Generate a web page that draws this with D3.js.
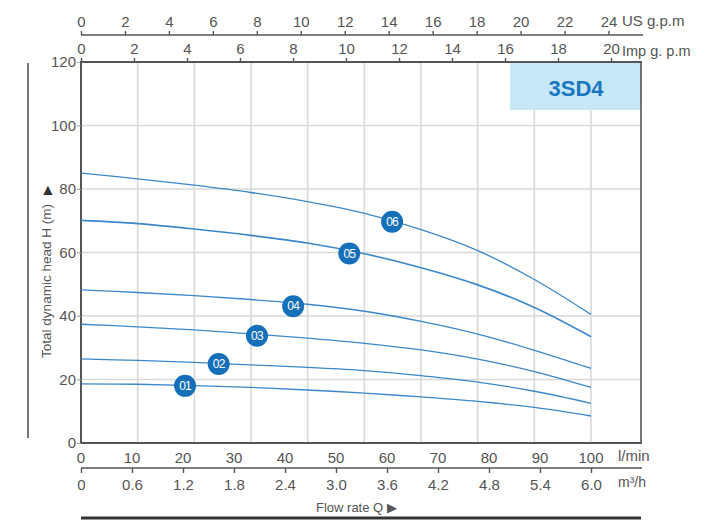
<!DOCTYPE html>
<html>
<head>
<meta charset="utf-8">
<script src="https://cdn.jsdelivr.net/npm/d3@7"></script>
<style>
  html, body { margin: 0; padding: 0; background: #fff; }
  svg { display: block; font-family: "Liberation Sans", Arial, sans-serif; }
</style>
</head>
<body>
<svg id="chart" width="720" height="520"></svg>
<script>
// ---- data ----
const flowLmin = [0, 11.1, 22.2, 33.3, 44.4, 55.6, 66.7, 77.8, 88.9, 100];
const head01 = [18.6, 18.5, 18.1, 17.5, 16.7, 15.7, 14.5, 13.1, 11.2, 8.5];
const head02 = [26.5, 26.0, 25.4, 24.6, 23.8, 22.8, 21.2, 19.2, 16.3, 12.5];
const head03 = [37.4, 36.6, 35.6, 34.4, 33.0, 31.4, 29.3, 26.4, 22.5, 17.5];
const head04 = [48.2, 47.4, 46.4, 45.2, 43.7, 41.5, 38.3, 34.3, 29.2, 23.5];
const head05 = [70.1, 69.1, 67.4, 65.4, 63.0, 59.6, 55.2, 49.8, 42.7, 33.5];
const head06 = [85.0, 83.2, 81.2, 78.9, 76.0, 72.3, 67.2, 60.6, 51.5, 40.5];
const seriesNames = ["01", "02", "03", "04", "05", "06"];
const labelFlow = [20.4, 27.0, 34.5, 41.6, 52.6, 61.0];
const labelHead = [18.0, 24.9, 33.8, 43.1, 59.7, 69.7];
const lminTicks = [0, 10, 20, 30, 40, 50, 60, 70, 80, 90, 100];
const m3hTicks = ["0", "0.6", "1.2", "1.8", "2.4", "3.0", "3.6", "4.2", "4.8", "5.4", "6.0"];
const usGpmTicks = [0, 2, 4, 6, 8, 10, 12, 14, 16, 18, 20, 22, 24];
const impGpmTicks = [0, 2, 4, 6, 8, 10, 12, 14, 16, 18, 20];
const headTicks = [0, 20, 40, 60, 80, 100, 120];
const gridDivisions = 9;
const modelName = "3SD4";

const heads = [head01, head02, head03, head04, head05, head06];

// ---- layout ----
const svg = d3.select("#chart");
const L = 81, R = 641, T = 62, B = 443;
const x = d3.scaleLinear().domain([0, 110]).range([L, L + 561]);
const y = d3.scaleLinear().domain([0, 120]).range([B, T]);
const xUS = d3.scaleLinear().domain([0, 24]).range([L, 608.5]);
const xImp = d3.scaleLinear().domain([0, 20]).range([L, 611]);
const axisGrey = "#555";
const textGrey = "#555";

// grid
const gridX = d3.range(1, gridDivisions + 1).map(i => i * 100 / gridDivisions);
svg.append("g").selectAll("line").data(gridX).join("line")
  .attr("x1", d => x(d)).attr("x2", d => x(d))
  .attr("y1", T).attr("y2", B)
  .attr("stroke", "#d9d9d9").attr("stroke-width", 1.6);
svg.append("g").selectAll("line").data(headTicks.slice(1, -1)).join("line")
  .attr("x1", L - 4).attr("x2", R)
  .attr("y1", d => y(d)).attr("y2", d => y(d))
  .attr("stroke", "#d9d9d9").attr("stroke-width", 1.6);

// model box
svg.append("rect").attr("x", 510).attr("y", T).attr("width", R - 510).attr("height", 48)
  .attr("fill", "#c6e7f6");
svg.append("text").attr("x", 576).attr("y", 96).attr("text-anchor", "middle")
  .attr("font-size", 22).attr("font-weight", "bold").attr("fill", "#1a76c0").text(modelName);

// plot frame
svg.append("line").attr("x1", L).attr("x2", L).attr("y1", T).attr("y2", B + 1)
  .attr("stroke", axisGrey).attr("stroke-width", 2);
svg.append("line").attr("x1", R).attr("x2", R).attr("y1", T).attr("y2", B)
  .attr("stroke", axisGrey).attr("stroke-width", 1.6);
svg.append("line").attr("x1", L - 1).attr("x2", R + 1).attr("y1", B).attr("y2", B)
  .attr("stroke", axisGrey).attr("stroke-width", 2);

// y axis ticks & labels
const yAxis = d3.axisLeft(y).tickValues(headTicks).tickSize(4).tickPadding(1);
const gy = svg.append("g").attr("transform", `translate(${L},0)`).call(yAxis);
gy.select(".domain").remove();
gy.selectAll(".tick line").attr("stroke", "#aaa");
gy.selectAll(".tick text").attr("font-size", 15).attr("fill", textGrey)
  .attr("font-family", "Liberation Sans, Arial, sans-serif");

// y label
svg.append("text").attr("transform", "translate(51,281) rotate(-90)")
  .attr("text-anchor", "middle").attr("font-size", 13.5).attr("fill", textGrey)
  .text("Total dynamic head H (m)");
svg.append("text").attr("transform", "translate(51,190) rotate(-90)")
  .attr("text-anchor", "middle").attr("font-size", 12).attr("fill", "#333")
  .text("\u25B6");
svg.append("line").attr("x1", 28).attr("x2", 28).attr("y1", 63).attr("y2", 438)
  .attr("stroke", "#777").attr("stroke-width", 2);

// top US gpm axis
const gus = svg.append("g").attr("transform", "translate(0,35)")
  .call(d3.axisTop(xUS).tickValues(usGpmTicks).tickSize(4).tickPadding(4));
gus.select(".domain").attr("d", `M${L},0H643`).attr("stroke", axisGrey).attr("stroke-width", 1.6);
gus.selectAll(".tick line").attr("stroke", axisGrey).attr("stroke-width", 1.4);
gus.selectAll(".tick text").attr("font-size", 15).attr("fill", textGrey)
  .attr("font-family", "Liberation Sans, Arial, sans-serif");
svg.append("text").attr("x", 622).attr("y", 26).attr("font-size", 15).attr("fill", textGrey).text("US g.p.m");

// top Imp gpm axis (plot top)
const gimp = svg.append("g").attr("transform", `translate(0,${T})`)
  .call(d3.axisTop(xImp).tickValues(impGpmTicks).tickSize(4).tickPadding(4));
gimp.select(".domain").attr("d", `M${L - 1},0H${R + 1}`).attr("stroke", axisGrey).attr("stroke-width", 1.8);
gimp.selectAll(".tick line").attr("stroke", axisGrey).attr("stroke-width", 1.4);
gimp.selectAll(".tick text").attr("font-size", 15).attr("fill", textGrey)
  .attr("font-family", "Liberation Sans, Arial, sans-serif");
svg.append("text").attr("x", 622).attr("y", 56).attr("font-size", 14.5).attr("fill", textGrey).text("Imp g. p.m");

// bottom l/min labels
svg.append("g").selectAll("text").data(lminTicks).join("text")
  .attr("x", d => x(d)).attr("y", 463).attr("text-anchor", "middle")
  .attr("font-size", 15).attr("fill", textGrey).text(d => d);
svg.append("text").attr("x", 618).attr("y", 461).attr("font-size", 15).attr("fill", textGrey).text("l/min");

// m3/h axis
const gm = svg.append("g").attr("transform", "translate(0,468)")
  .call(d3.axisBottom(x).tickValues(lminTicks).tickFormat((d, i) => m3hTicks[i]).tickSize(5).tickPadding(6));
gm.select(".domain").attr("d", `M${L},0H${R + 1}`).attr("stroke", axisGrey).attr("stroke-width", 1.6);
gm.selectAll(".tick line").attr("stroke", axisGrey).attr("stroke-width", 1.4);
gm.selectAll(".tick text").attr("font-size", 15).attr("fill", textGrey)
  .attr("font-family", "Liberation Sans, Arial, sans-serif");
svg.append("text").attr("x", 618).attr("y", 487).attr("font-size", 14).attr("fill", textGrey).text("m\u00B3/h");

svg.append("text").attr("x", 316).attr("y", 512).attr("font-size", 13).attr("fill", textGrey)
  .text("Flow rate Q \u25B6");
svg.append("line").attr("x1", L).attr("x2", R).attr("y1", 518).attr("y2", 518)
  .attr("stroke", "#333").attr("stroke-width", 3);

// curves
const line = d3.line().x(d => x(d[0])).y(d => y(d[1])).curve(d3.curveCatmullRom.alpha(0.5));
heads.forEach((h, i) => {
  svg.append("path").datum(flowLmin.map((q, j) => [q, h[j]]))
    .attr("d", line).attr("fill", "none")
    .attr("stroke", "#3b88cc").attr("stroke-width", i === 4 ? 1.7 : 1.3);
});

// series badges
const badges = svg.append("g").selectAll("g").data(seriesNames).join("g")
  .attr("transform", (d, i) => `translate(${x(labelFlow[i])},${y(labelHead[i])})`);
badges.append("circle").attr("r", 11).attr("fill", "#1570b9");
badges.append("text").attr("text-anchor", "middle").attr("dy", "0.36em")
  .attr("font-size", 12).attr("fill", "#fff").attr("letter-spacing", -0.8).text(d => d);
</script>
</body>
</html>
